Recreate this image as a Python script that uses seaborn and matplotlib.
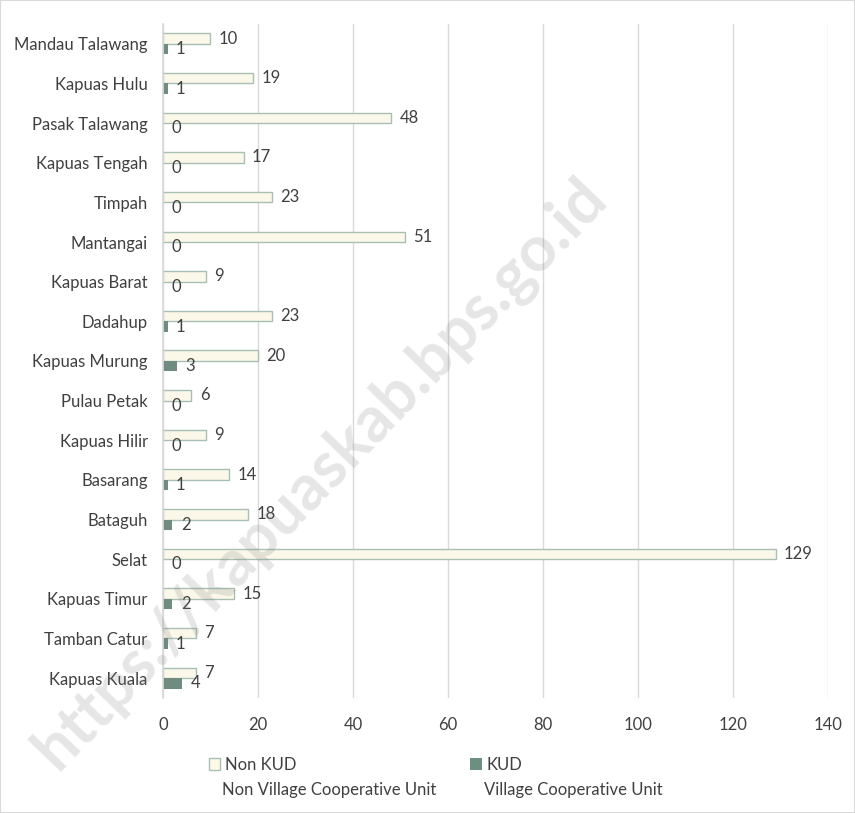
import matplotlib
matplotlib.use("Agg")
import matplotlib.pyplot as plt
import seaborn as sns
import pandas as pd
from matplotlib.patches import Patch, Rectangle

# data (top to bottom as shown)
kecamatan = ["Mandau Talawang", "Kapuas Hulu", "Pasak Talawang", "Kapuas Tengah", "Timpah",
             "Mantangai", "Kapuas Barat", "Dadahup", "Kapuas Murung", "Pulau Petak",
             "Kapuas Hilir", "Basarang", "Bataguh", "Selat", "Kapuas Timur",
             "Tamban Catur", "Kapuas Kuala"]
non_kud = [10, 19, 48, 17, 23, 51, 9, 23, 20, 6, 9, 14, 18, 129, 15, 7, 7]
kud = [1, 1, 0, 0, 0, 0, 0, 1, 3, 0, 0, 1, 2, 0, 2, 1, 4]
series = ["Non KUD", "KUD"]
series_sub = ["Non Village Cooperative Unit", "Village Cooperative Unit"]

df = pd.DataFrame({
    "Kecamatan": kecamatan * 2,
    "Jumlah": non_kud + kud,
    "Jenis": [series[0]] * len(kecamatan) + [series[1]] * len(kecamatan),
})

sns.set_theme(style="white")
plt.rcParams["font.family"] = ["Lato", "DejaVu Sans"]

c_non = "#FEF9E6"
c_edge = "#A8BFB4"
c_kud = "#6C8F80"
txt = "#404040"

fig = plt.figure(figsize=(8.55, 8.13), dpi=100)
ax = fig.add_axes([0.1906, 0.1415, 0.7778, 0.829])

sns.barplot(data=df, y="Kecamatan", x="Jumlah", hue="Jenis", orient="h",
            palette={series[0]: c_non, series[1]: c_kud}, width=0.53,
            ax=ax, legend=False, order=kecamatan, hue_order=series)

for p in ax.containers[0]:
    p.set_edgecolor(c_edge)
    p.set_linewidth(1.0)
for p in ax.containers[1]:
    p.set_edgecolor("none")

ax.bar_label(ax.containers[0], padding=6, fontsize=12, color=txt)
ax.bar_label(ax.containers[1], padding=6, fontsize=12, color=txt)

ax.set_xlim(0, 140)
ax.set_ylim(len(kecamatan) - 0.5, -0.5)
ax.set_xticks(range(0, 141, 20))
ax.grid(axis="x", color="#D9D9D9", linewidth=1)
ax.set_axisbelow(True)
for s in ["top", "right", "bottom"]:
    ax.spines[s].set_visible(False)
ax.spines["left"].set_color("#D9D9D9")
ax.tick_params(axis="y", length=0, pad=11, labelsize=12, labelcolor=txt)
ax.tick_params(axis="x", length=0, pad=14, labelsize=12, labelcolor=txt)
ax.set_xlabel("")
ax.set_ylabel("")

# legend
handles = [Patch(facecolor=c_non, edgecolor=c_edge, linewidth=1),
           Patch(facecolor=c_kud, edgecolor="none")]
fig.legend(handles, series, loc="center left", bbox_to_anchor=(0.244, 0.059),
           ncol=2, frameon=False, fontsize=12, labelcolor=txt,
           handlelength=0.7, handleheight=0.7, handletextpad=0.3,
           columnspacing=10.4, borderpad=0, borderaxespad=0)
fig.text(0.2596, 0.028, series_sub[0], fontsize=12, color=txt, va="center")
fig.text(0.566, 0.028, series_sub[1], fontsize=12, color=txt, va="center")

# watermark
fig.text(0.374, 0.418, "https://kapuaskab.bps.go.id", fontsize=46, fontweight="bold",
         color="#808080", alpha=0.2, rotation=46, ha="center", va="center")

fig.patches.append(Rectangle((0, 0), 1, 1, transform=fig.transFigure, fill=False,
                             edgecolor="#D9D9D9", linewidth=1.5))

fig.savefig("out.png", dpi=100)
